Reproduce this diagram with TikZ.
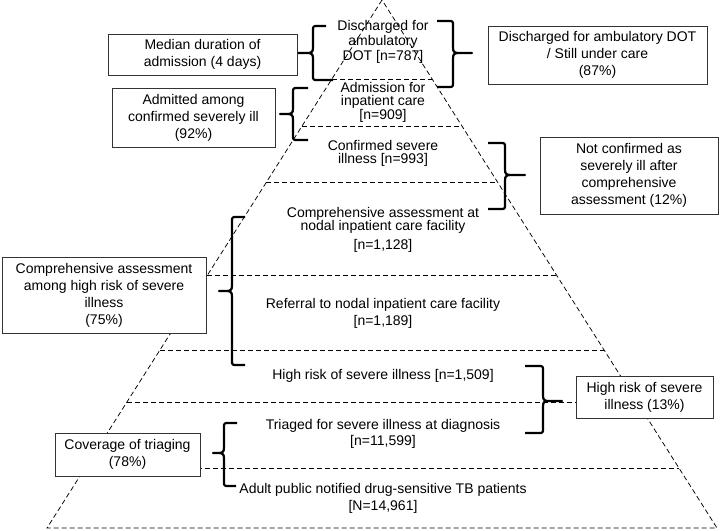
\documentclass[tikz,border=0pt]{standalone}
\usepackage{fontspec}
\setmainfont{Liberation Sans}
\newcommand\mybraceR[7]{% xe-top xv xt yt ym yb xe-bottom
 \draw[brc] (#1,#4) -- ({#2-5},#4) .. controls (#2,#4) .. (#2,{#4+5}) -- (#2,{#5-6})
   .. controls (#2,{#5-1}) and ({#2+1},#5) .. ({#2+6},#5) -- (#3,#5) -- ({#2+6},#5)
   .. controls ({#2+1},#5) and (#2,{#5+1}) .. (#2,{#5+6}) -- (#2,{#6-5})
   .. controls (#2,#6) .. ({#2-5},#6) -- (#7,#6);}
\newcommand\mybraceL[7]{% xe-top xv xt yt ym yb xe-bottom
 \draw[brc] (#1,#4) -- ({#2+5},#4) .. controls (#2,#4) .. (#2,{#4+5}) -- (#2,{#5-6})
   .. controls (#2,{#5-1}) and ({#2-1},#5) .. ({#2-6},#5) -- (#3,#5) -- ({#2-6},#5)
   .. controls ({#2-1},#5) and (#2,{#5+1}) .. (#2,{#5+6}) -- (#2,{#6-5})
   .. controls (#2,#6) .. ({#2+5},#6) -- (#7,#6);}
\begin{document}
\begin{tikzpicture}[x=1pt,y=-1pt,
  dl/.style={line width=0.75pt, dash pattern=on 5pt off 3pt},
  brc/.style={line width=2.2pt, line join=round},
  txt/.style={align=center, inner sep=0pt, font=\fontsize{14}{#1}\selectfont},
  txt/.default=15,
  box/.style={draw=black!80, line width=0.8pt, fill=white, align=center, inner sep=0pt,
    font=\fontsize{14}{17}\selectfont}]
\useasboundingbox (0,0) rectangle (720,530);
% pyramid
\coordinate (A) at (382,0);
\coordinate (BL) at (47,528);
\coordinate (BR) at (717,528);
\draw[dl] (A) -- (BL) -- (BR) -- cycle;
\foreach \y in {79,126,182,275,350,402,468}
  \draw[dl] ({382-0.635*\y},\y) -- ({382+0.635*\y},\y);
% level texts
\node[txt=15] (tDis) at (383,41.5) {Discharged for\\ambulatory\\DOT [n=787]};
\node[txt=13] (tAdm) at (383,102.5) {Admission for\\inpatient care\\{}[n=909]};
\node[txt=12.5] (tConf) at (383,153.5) {Confirmed severe\\illness [n=993]};
\node[txt=13.5] (tComp) at (383,229.5) {Comprehensive assessment at\\nodal inpatient care facility\\[5pt][n=1,128]};
\node[txt=17] (tRef) at (383,313) {Referral to nodal inpatient care facility\\{}[n=1,189]};
\node[txt] (tHigh) at (383,376) {High risk of severe illness [n=1,509]};
\node[txt=15.5] (tTri) at (383,434) {Triaged for severe illness at diagnosis\\{}[n=11,599]};
\node[txt=17] (tAdult) at (383,498) {Adult public notified drug-sensitive TB patients\\{}[N=14,961]};
% braces
\mybraceL{326}{313}{298}{26}{53}{80}{333}
\mybraceR{437}{453}{472}{21}{53}{87}{437}
\mybraceL{308}{293}{280}{88}{114}{140}{308}
\mybraceR{488}{505}{525}{143}{175}{209}{488}
\mybraceL{245}{232}{219}{217}{291}{365}{245}
\mybraceR{525}{543}{562}{366}{401}{433}{525}
\mybraceL{237}{224}{213}{423}{453}{486}{236}
% boxes
\node[box, minimum width=189pt, minimum height=41pt] (bMed) at (202.5,54.5) {Median duration of\\admission (4 days)};
\node[box, minimum width=163pt, minimum height=59pt] (bAdmit) at (193.5,117.5) {Admitted among\\confirmed severely ill\\(92\%)};
\node[box, minimum width=219pt, minimum height=58pt] (bDisR) at (597.5,55) {Discharged for ambulatory DOT\\/ Still under care\\(87\%)};
\node[box, minimum width=178pt, minimum height=77pt] (bNotConf) at (629,175.5) {Not confirmed as\\severely ill after\\comprehensive\\assessment (12\%)};
\node[box, minimum width=204pt, minimum height=76pt] (bCompL) at (104,295) {Comprehensive assessment\\among high risk of severe\\illness\\(75\%)};
\node[box, minimum width=137pt, minimum height=42pt] (bHighR) at (644.5,397) {High risk of severe\\illness (13\%)};
\node[box, minimum width=145pt, minimum height=43pt] (bCov) at (127.5,454.5) {Coverage of triaging\\(78\%)};
\end{tikzpicture}
\end{document}
